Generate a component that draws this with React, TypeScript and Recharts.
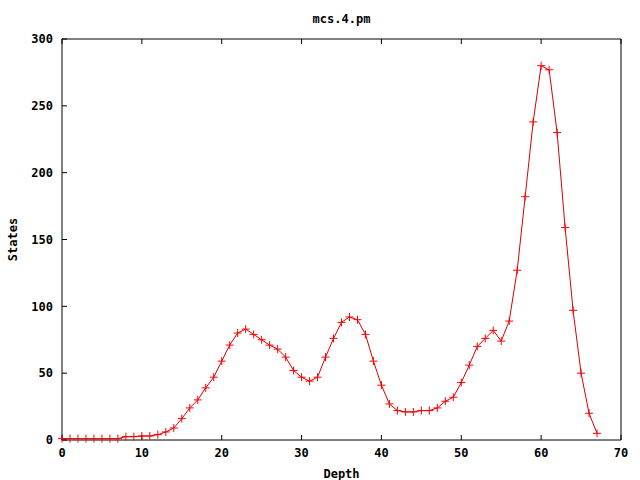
import { LineChart, Line, XAxis, YAxis } from "recharts";

// depth 0..67
const depths = Array.from({ length: 68 }, (_, i) => i);
const states = [
  1, 1, 1, 1, 1, 1, 1, 1, 2.5, 2.5, 3, 3, 4, 6, 9, 16, 24, 30, 39, 47, 59, 71, 80, 83,
  79, 75, 71, 68, 62, 52, 47, 44, 47, 62, 76, 88, 92, 90, 79, 59, 41, 27, 22, 21, 21,
  22, 22, 24, 29, 32, 43, 56, 70, 76, 82, 74, 89, 127, 182, 238, 280, 277, 230, 159,
  97, 50, 20, 5,
];
const xTicks = [0, 10, 20, 30, 40, 50, 60, 70];
const yTicks = [0, 50, 100, 150, 200, 250, 300];

const data = depths.map((d, i) => ({ depth: d, states: states[i] }));

const FONT = "'DejaVu Sans Mono', monospace";
const RED = "#dd0000";

function Plus(props: any) {
  const { cx, cy } = props;
  if (cx == null || cy == null) return null;
  return (
    <g stroke="#ff0000" strokeWidth={1}>
      <line x1={cx - 4} y1={cy} x2={cx + 4} y2={cy} />
      <line x1={cx} y1={cy - 4} x2={cx} y2={cy + 4} />
    </g>
  );
}

function YTitle(props: any) {
  const { viewBox } = props;
  const cx = viewBox.x + 13;
  const cy = viewBox.y + viewBox.height / 2;
  return (
    <text
      x={cx}
      y={cy}
      transform={`rotate(-90 ${cx} ${cy})`}
      textAnchor="middle"
      dominantBaseline="central"
      fontFamily={FONT}
      fontWeight="bold"
      fontSize={12}
      fill="#000"
    >
      States
    </text>
  );
}

const tickStyle = { fill: "#000", fontSize: 12, fontFamily: FONT, fontWeight: "bold" };
const axisStroke = { stroke: "#000", strokeWidth: 1 };

export default function App() {
  return (
    <div style={{ position: "absolute", left: 0, top: 0, width: 640, height: 480, background: "#fff" }}>
      <LineChart width={640} height={480} data={data} margin={{ top: 38, right: 18, bottom: 0, left: 0 }}>
        <XAxis
          dataKey="depth"
          type="number"
          domain={[0, 70]}
          ticks={xTicks}
          height={40}
          tickSize={-5}
          tickMargin={13}
          tick={tickStyle}
          axisLine={axisStroke}
          tickLine={axisStroke}
          label={{ value: "Depth", position: "insideBottom", offset: 2, fill: "#000", fontSize: 12, fontFamily: FONT, fontWeight: "bold" }}
        />
        <XAxis
          xAxisId="top"
          orientation="top"
          dataKey="depth"
          type="number"
          domain={[0, 70]}
          ticks={xTicks}
          height={1}
          tickSize={-5}
          tickFormatter={() => ""}
          axisLine={axisStroke}
          tickLine={axisStroke}
          label={{ value: "mcs.4.pm", position: "top", offset: 15, fill: "#000", fontSize: 12, fontFamily: FONT, fontWeight: "bold" }}
        />
        <YAxis
          type="number"
          domain={[0, 300]}
          ticks={yTicks}
          width={62}
          tickSize={-5}
          tickMargin={14}
          tick={tickStyle}
          axisLine={axisStroke}
          tickLine={axisStroke}
          label={{ content: <YTitle /> }}
        />
        <YAxis
          yAxisId="right"
          orientation="right"
          type="number"
          domain={[0, 300]}
          ticks={yTicks}
          width={1}
          tickSize={-5}
          tickFormatter={() => ""}
          axisLine={axisStroke}
          tickLine={axisStroke}
        />
        <Line
          type="linear"
          dataKey="states"
          stroke={RED}
          strokeWidth={1}
          dot={<Plus />}
          activeDot={false}
          isAnimationActive={false}
        />
      </LineChart>
    </div>
  );
}
